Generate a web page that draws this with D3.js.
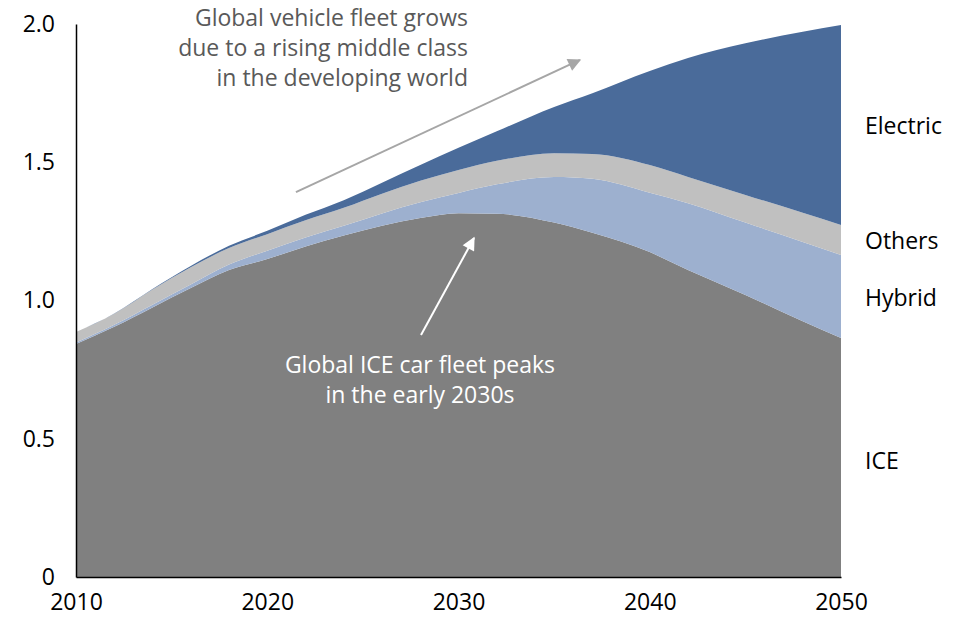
<!DOCTYPE html>
<html>
<head>
<meta charset="utf-8">
<script src="https://cdn.jsdelivr.net/npm/d3@7/dist/d3.min.js"></script>
<style>
  html, body { margin: 0; padding: 0; background: #fff; }
  svg { display: block; font-family: "Open Sans", Lato, sans-serif; }
</style>
</head>
<body>
<svg id="chart" width="971" height="617"></svg>
<script>
// Global vehicle fleet (billions) by powertrain
const years    = [2010, 2012, 2014, 2016, 2018, 2020, 2022, 2024, 2026, 2028, 2030, 2032, 2035, 2037, 2040, 2042, 2045, 2048, 2050];
const ice      = [0.843, 0.905, 0.975, 1.045, 1.110, 1.150, 1.195, 1.235, 1.270, 1.298, 1.316, 1.314, 1.282, 1.245, 1.175, 1.110, 1.020, 0.925, 0.864];
const hybrid   = [0.005, 0.007, 0.010, 0.013, 0.020, 0.030, 0.033, 0.035, 0.045, 0.057, 0.073, 0.106, 0.165, 0.195, 0.215, 0.242, 0.262, 0.287, 0.301];
const others   = [0.038, 0.040, 0.055, 0.062, 0.060, 0.060, 0.062, 0.065, 0.071, 0.078, 0.083, 0.085, 0.086, 0.090, 0.100, 0.095, 0.100, 0.105, 0.108];
const electric = [0.000, 0.001, 0.002, 0.005, 0.008, 0.012, 0.020, 0.028, 0.040, 0.057, 0.080, 0.107, 0.167, 0.220, 0.340, 0.430, 0.548, 0.655, 0.723];

const seriesKeys   = ["ICE", "Hybrid", "Others", "Electric"];
const seriesColors = { ICE: "#808080", Hybrid: "#9DB0CF", Others: "#C0C0C0", Electric: "#4A6B9A" };
const xTicks = [2010, 2020, 2030, 2040, 2050];
const yTicks = [0, 0.5, 1.0, 1.5, 2.0];
const yTickLabels = ["0", "0.5", "1.0", "1.5", "2.0"];

const rows = years.map((yr, i) => ({
  year: yr, ICE: ice[i], Hybrid: hybrid[i], Others: others[i], Electric: electric[i]
}));

const FONT = "23px";
const svg = d3.select("#chart");
const x = d3.scaleLinear().domain([2010, 2050]).range([76, 841]);
const y = d3.scaleLinear().domain([0, 2.0]).range([577, 24]);

const stacked = d3.stack().keys(seriesKeys)(rows);

const area = d3.area()
  .x(d => x(d.data.year))
  .y0(d => y(d[0]))
  .y1(d => y(d[1]))
  .curve(d3.curveMonotoneX);

svg.append("g").selectAll("path")
  .data(stacked)
  .join("path")
  .attr("d", area)
  .attr("fill", d => seriesColors[d.key]);

// Axes
const xAxis = d3.axisBottom(x).tickValues(xTicks).tickFormat(d3.format("d")).tickSize(0);
const yAxis = d3.axisLeft(y).tickValues(yTicks).tickFormat((d, i) => yTickLabels[i]).tickSize(0).tickPadding(21);

const gx = svg.append("g").attr("transform", "translate(0,577)").call(xAxis);
const gy = svg.append("g").attr("transform", "translate(76,0)").call(yAxis);
[gx, gy].forEach(g => {
  g.attr("font-family", null).attr("font-size", null);
  g.select(".domain").attr("stroke", "#000").attr("stroke-width", 1.5);
  g.selectAll("text").attr("fill", "#000").style("font-size", FONT);
});
gx.selectAll("text").attr("y", 25).attr("dy", "0.35em");

// Series labels on the right
const labelPos = [
  { text: "Electric", v: 1.63 },
  { text: "Others", v: 1.217 },
  { text: "Hybrid", v: 1.01 },
  { text: "ICE", v: 0.42 }
];
svg.append("g").selectAll("text")
  .data(labelPos)
  .join("text")
  .attr("x", 865)
  .attr("y", d => y(d.v))
  .attr("dy", "0.35em")
  .style("font-size", FONT)
  .attr("fill", "#000")
  .text(d => d.text);

// Arrow markers
const defs = svg.append("defs");
function marker(id, color) {
  defs.append("marker")
    .attr("id", id)
    .attr("viewBox", "0 0 10 10")
    .attr("refX", 9).attr("refY", 5)
    .attr("markerWidth", 15).attr("markerHeight", 13)
    .attr("markerUnits", "userSpaceOnUse")
    .attr("orient", "auto")
    .append("path")
    .attr("d", "M0,0 L10,5 L0,10 Z")
    .attr("fill", color);
}
marker("arrowGrey", "#A6A6A6");
marker("arrowWhite", "#FFFFFF");

// Growth annotation
svg.append("line")
  .attr("x1", x(2021.5)).attr("y1", y(1.392))
  .attr("x2", x(2036.35)).attr("y2", y(1.870))
  .attr("stroke", "#A6A6A6").attr("stroke-width", 2)
  .attr("marker-end", "url(#arrowGrey)");

const growthText = ["Global vehicle fleet grows", "due to a rising middle class", "in the developing world"];
svg.append("g").selectAll("text")
  .data(growthText)
  .join("text")
  .attr("x", 468)
  .attr("y", (d, i) => 18 + i * 30)
  .attr("dy", "0.35em")
  .attr("text-anchor", "end")
  .style("font-size", FONT)
  .attr("fill", "#595959")
  .text(d => d);

// ICE peak annotation
svg.append("line")
  .attr("x1", 421).attr("y1", 335)
  .attr("x2", 474).attr("y2", 238)
  .attr("stroke", "#FFFFFF").attr("stroke-width", 2)
  .attr("marker-end", "url(#arrowWhite)");

const peakText = ["Global ICE car fleet peaks", "in the early 2030s"];
svg.append("g").selectAll("text")
  .data(peakText)
  .join("text")
  .attr("x", 420)
  .attr("y", (d, i) => 365 + i * 30)
  .attr("dy", "0.35em")
  .attr("text-anchor", "middle")
  .style("font-size", FONT)
  .attr("fill", "#FFFFFF")
  .text(d => d);
</script>
</body>
</html>
